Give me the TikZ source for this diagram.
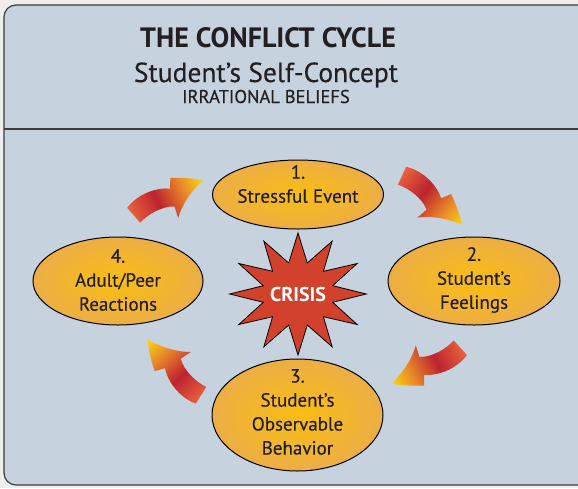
\documentclass[tikz,border=0pt]{standalone}
\usepackage{fontspec}
\setmainfont{PT Sans}
\newfontfamily\heavy[FakeBold=0.35]{PT Sans}
\usetikzlibrary{shapes.geometric, positioning}
\definecolor{outside}{HTML}{EEEEEE}
\definecolor{panel}{HTML}{C6D2DE}
\definecolor{frame}{HTML}{3C3C3C}
\definecolor{ink}{HTML}{231F20}
\definecolor{stageinner}{HTML}{FABE12}
\definecolor{stageouter}{HTML}{ECAE45}
\definecolor{crisisred}{HTML}{D1412B}
\definecolor{arrowtail}{HTML}{E8633C}
\definecolor{arrowmid}{HTML}{BE232F}
\definecolor{arrowhead}{HTML}{E8862A}
\definecolor{arrowtip}{HTML}{F9D80F}
\pgfdeclarehorizontalshading{arrowshade}{100bp}{color(0bp)=(arrowtail);
  color(25bp)=(arrowtail); color(44bp)=(arrowmid); color(61bp)=(arrowhead);
  color(75bp)=(arrowtip); color(100bp)=(arrowtip)}
\tikzset{x=1pt, y=1pt,
         stage/.style={ellipse, draw=black, line width=1pt,
                       inner color=stageinner, outer color=stageouter},
         stagetext/.style={align=center, text=ink,
                           font=\heavy\fontsize{19}{24}\selectfont},
         burst/.style={star, star points=12, star point ratio=1.9,
                       minimum size=122pt, inner sep=0pt, draw=black,
                       line width=0.8pt, fill=crisisred,
                       xscale=1.12, transform shape},
         bursttext/.style={text=white, font=\fontsize{20}{24}\selectfont\bfseries},
         heading/.style={anchor=base, text=ink}}
% one fat curved arrow, tail at #1, turned by #2
\newcommand{\cyclearrow}[2]{%
  \begin{scope}[transform canvas={shift={(#1)}, rotate=#2}]
    \shade[shading=arrowshade]
      (-2,9) .. controls (14,17) and (34,14) .. (45,7)
      -- (50,16.5) .. controls (60,12) and (70,6) .. (78,0)
      .. controls (62,-5) and (48,-13) .. (39,-23)
      -- (41,-11) .. controls (30,-5) and (14,-6) .. (3,-10) -- cycle;
  \end{scope}}
\begin{document}
\begin{tikzpicture}
\useasboundingbox (0,0) rectangle (578,-488);
\fill[outside] (0,0) rectangle (578,-488);
\draw[frame, line width=1.2pt, fill=panel, rounded corners=12pt]
  (4,-5) rectangle (620,-485);
\draw[frame, line width=1.2pt] (4,-129) -- (620,-129);

% header
\node[heading, font=\fontsize{28}{30}\selectfont\bfseries] (title) at (268,-47) {THE CONFLICT CYCLE};
\node[heading, font=\heavy\fontsize{27.5}{30}\selectfont] (concept) at (266,-82) {Student’s Self-Concept};
\node[heading, font=\heavy\fontsize{18.5}{20}\selectfont] (beliefs) at (266,-103) {IRRATIONAL BELIEFS};

% the cycle
\node[stage, minimum width=171pt, minimum height=69pt] (event) at (298,-194.5) {};
\node[stagetext] (eventtxt) at (298,-184) {1.\\Stressful Event};
\node[stage, minimum width=172pt, minimum height=88pt] (feelings) at (474,-281) {};
\node[stagetext] (feelingstxt) at (474,-280) {2.\\Student’s\\Feelings};
\node[stage, minimum width=171pt, minimum height=112pt] (behavior) at (297.5,-415) {};
\node[stagetext] (behaviortxt) at (297.5,-412) {3.\\Student’s\\Observable\\Behavior};
\node[stage, minimum width=170pt, minimum height=88pt] (reactions) at (118,-281) {};
\node[stagetext] (reactionstxt) at (118,-280) {4.\\Adult/Peer\\Reactions};

\node[burst] (crisis) at (298,-294) {};
\node[bursttext] (crisistxt) at (crisis.center) {CRISIS};

% arrows between the stages
\coordinate (tail1) at (133,-215);
\coordinate (tail2) at (402,-175);
\coordinate (tail3) at (461,-348);
\coordinate (tail4) at (201,-396);
\cyclearrow{tail1}{26.6}
\cyclearrow{tail2}{-39.5}
\cyclearrow{tail3}{207.2}
\cyclearrow{tail4}{133.5}
\end{tikzpicture}
\end{document}
